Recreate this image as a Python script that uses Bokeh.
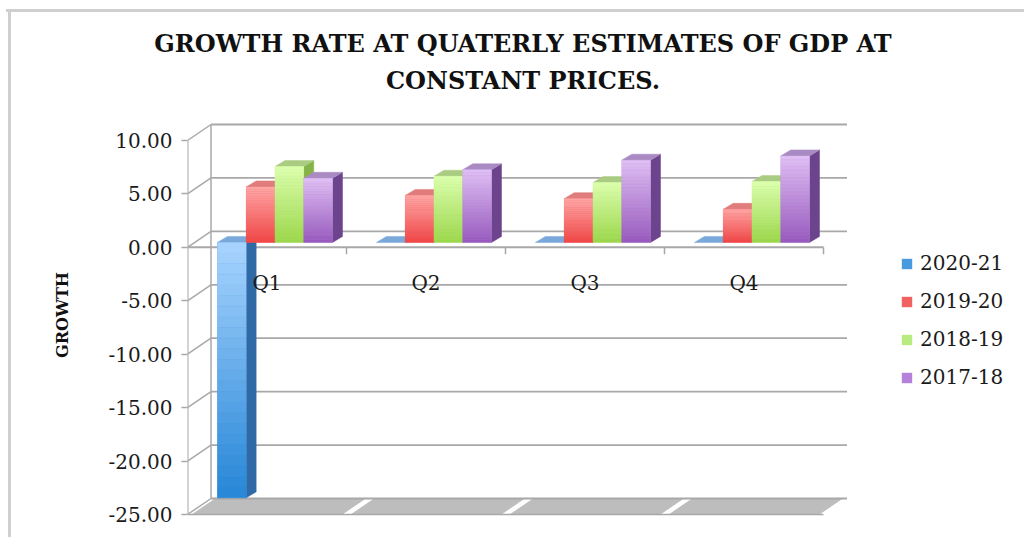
from bokeh.plotting import figure
from bokeh.models import (Range1d, FixedTicker, NumeralTickFormatter, Legend,
                          LegendItem, Title)
from bokeh.embed import file_html
from bokeh.resources import INLINE
from bokeh.core.properties import value

# ---------------- data ----------------
quarters = ["Q1", "Q2", "Q3", "Q4"]
series = ["2020-21", "2019-20", "2018-19", "2017-18"]
growth_2020_21 = [-23.9, 0.0, 0.0, 0.0]
growth_2019_20 = [5.2, 4.4, 4.1, 3.1]
growth_2018_19 = [7.1, 6.2, 5.6, 5.7]
growth_2017_18 = [6.0, 6.8, 7.7, 8.1]
y_ticks = [-25, -20, -15, -10, -5, 0, 5, 10]
title_line1 = "GROWTH RATE AT QUATERLY ESTIMATES OF GDP AT"
title_line2 = "CONSTANT PRICES."
y_title = "GROWTH"

values = [growth_2020_21, growth_2019_20, growth_2018_19, growth_2017_18]

# ---------------- styling ----------------
PXX = 159.0      # px per category
PXY = 10.686     # px per unit
WDX, WDY = 23.5 / PXX, 16.0 / PXY     # back-wall depth offset
BDX, BDY = 10.0 / PXX, 6.0 / PXY      # bar depth
BAR_W = 0.181
BAR_X0 = 0.188
BASE = 4.9 / PXY
GRID = "#a8a8a8"
FONT = "DejaVu Serif"

styles = [
    # light top, dark bottom, side, top face, legend
    ("#a8d4ff", "#2686d6", "#2f6aa6", "#7aa8da", "#4a9ae0"),
    ("#ffa8a8", "#f04646", "#b84040", "#e07c7c", "#f06262"),
    ("#dcffae", "#9cd64c", "#86b24a", "#aacc82", "#b8ec80"),
    ("#dfc0f4", "#985abd", "#6c448e", "#a98ac2", "#b482da"),
]


def hex2rgb(h):
    h = h.lstrip("#")
    return tuple(int(h[i:i + 2], 16) for i in (0, 2, 4))


def mix(c1, c2, t):
    a, b = hex2rgb(c1), hex2rgb(c2)
    return "#%02x%02x%02x" % tuple(round(a[i] + (b[i] - a[i]) * t) for i in range(3))


n_cat = len(quarters)
y_lo, y_hi = min(y_ticks), max(y_ticks)

p = figure(frame_width=671, frame_height=429,
           x_range=Range1d(0, 671 / PXX),
           y_range=Range1d(y_lo - 15 / PXY, y_hi + 40 / PXY),
           min_border_left=187, min_border_right=166, min_border_top=100,
           min_border_bottom=8,
           output_backend="svg", toolbar_location=None)
p.xaxis.visible = False
p.xgrid.visible = False
p.ygrid.visible = False
p.outline_line_color = None
p.background_fill_color = "white"
p.border_fill_color = None
p.styles = {
    "background": "linear-gradient(#cfcfcf, #cfcfcf) 8px 9px / 3px 100% no-repeat, "
                  "linear-gradient(#cfcfcf, #cfcfcf) 6px 9px / 100% 3px no-repeat, white"
}

# title (two lines; inner line added first, then a small spacer on top)
p.add_layout(Title(text=title_line2, align="center", text_font=FONT,
                   text_font_size="24px", text_font_style="bold",
                   text_color="#111111", standoff=12), "above")
p.add_layout(Title(text=title_line1, align="center", text_font=FONT,
                   text_font_size="24px", text_font_style="bold",
                   text_color="#111111", standoff=0), "above")
p.add_layout(Title(text=" ", align="center", text_font_size="6px",
                   standoff=0), "above")

# y axis
ya = p.yaxis[0]
ya.ticker = FixedTicker(ticks=y_ticks)
ya.formatter = NumeralTickFormatter(format="0.00")
ya.axis_line_color = None
ya.major_tick_line_color = GRID
ya.major_tick_line_width = 1.5
ya.major_tick_out = 6
ya.major_tick_in = 0
ya.minor_tick_line_color = None
ya.major_label_text_font = FONT
ya.major_label_text_font_size = "20px"
ya.major_label_text_color = "#1a1a1a"
ya.major_label_standoff = 9
ya.axis_label = y_title
ya.axis_label_text_font = FONT
ya.axis_label_text_font_style = "bold"
ya.axis_label_text_font_size = "16px"
ya.axis_label_text_color = "#111111"
ya.axis_label_standoff = 33

# floor
for i in range(n_cat):
    g = 0.03
    p.patch([i + g, i + 1 - g, i + 1 - g + WDX, i + g + WDX],
            [y_lo, y_lo, y_lo + WDY, y_lo + WDY],
            fill_color="#bdbdbd", line_color="#bdbdbd", line_width=1)
p.segment(x0=[0], y0=[y_lo], x1=[n_cat], y1=[y_lo], line_color=GRID, line_width=1.5)

# back wall gridlines, side wall diagonals
p.segment(x0=[WDX] * len(y_ticks), y0=[t + WDY for t in y_ticks],
          x1=[n_cat + WDX] * len(y_ticks), y1=[t + WDY for t in y_ticks],
          line_color=GRID, line_width=1.8)
p.segment(x0=[0] * len(y_ticks), y0=y_ticks,
          x1=[WDX] * len(y_ticks), y1=[t + WDY for t in y_ticks],
          line_color=GRID, line_width=1.5)
p.segment(x0=[WDX], y0=[y_lo + WDY], x1=[WDX], y1=[y_hi + WDY],
          line_color=GRID, line_width=1.5)
# front vertical axis line
p.segment(x0=[0], y0=[y_lo], x1=[0], y1=[y_hi], line_color=GRID, line_width=2)
# front category axis at 0 with ticks
p.segment(x0=[0], y0=[0], x1=[n_cat], y1=[0], line_color=GRID, line_width=2)
p.segment(x0=list(range(1, n_cat + 1)), y0=[0] * n_cat,
          x1=list(range(1, n_cat + 1)), y1=[-7 / PXY] * n_cat,
          line_color=GRID, line_width=1.5)

# bars
legend_items = []
N = 24
for k, (name, vals) in enumerate(zip(series, values)):
    light, dark, side_c, top_c, leg_c = styles[k]
    lefts = [i + BAR_X0 + k * BAR_W for i in range(n_cat)]
    rights = [l + BAR_W for l in lefts]
    los = [BASE + min(0, v) for v in vals]
    his = [BASE + max(0, v) for v in vals]
    # side faces
    p.patches([[r, r + BDX, r + BDX, r] for r in rights],
              [[lo, lo + BDY, hi + BDY, hi] for lo, hi in zip(los, his)],
              fill_color=side_c, line_color=side_c, line_width=0.5)
    # top faces
    p.patches([[l, r, r + BDX, l + BDX] for l, r in zip(lefts, rights)],
              [[hi, hi, hi + BDY, hi + BDY] for hi in his],
              fill_color=top_c, line_color=top_c, line_width=0.5)
    # front faces
    r_main = p.vbar(x=[(l + r) / 2 for l, r in zip(lefts, rights)], width=BAR_W,
                    top=his, bottom=los, fill_color=leg_c, line_color=None)
    legend_items.append(LegendItem(label=name, renderers=[r_main]))
    ql, qr, qt, qb, qc = [], [], [], [], []
    for l, r, lo, hi in zip(lefts, rights, los, his):
        if hi - lo <= 0:
            continue
        for j in range(N):
            qt.append(hi - (hi - lo) * j / N)
            qb.append(hi - (hi - lo) * (j + 1) / N)
            ql.append(l)
            qr.append(r)
            qc.append(mix(light, dark, (j + 0.5) / N))
    p.quad(left=ql, right=qr, top=qt, bottom=qb, fill_color=qc,
           line_color=qc, line_width=0.3)

# category labels
p.text(x=[i + 0.5 for i in range(n_cat)], y=[0] * n_cat, text=quarters,
       text_align="center", text_baseline="middle", y_offset=36,
       text_font=value(FONT), text_font_size="20px", text_color="#1a1a1a")

legend = Legend(items=legend_items, location=(42, 140))
legend.border_line_color = None
legend.background_fill_alpha = 0
legend.label_text_font = FONT
legend.label_text_font_size = "20px"
legend.label_text_color = "#1a1a1a"
legend.glyph_width = 13
legend.glyph_height = 13
legend.label_height = 20
legend.spacing = 14
legend.padding = 0
legend.margin = 0
legend.label_standoff = 7
p.add_layout(legend, "right")

open("out.html", "w").write(file_html(p, INLINE))
